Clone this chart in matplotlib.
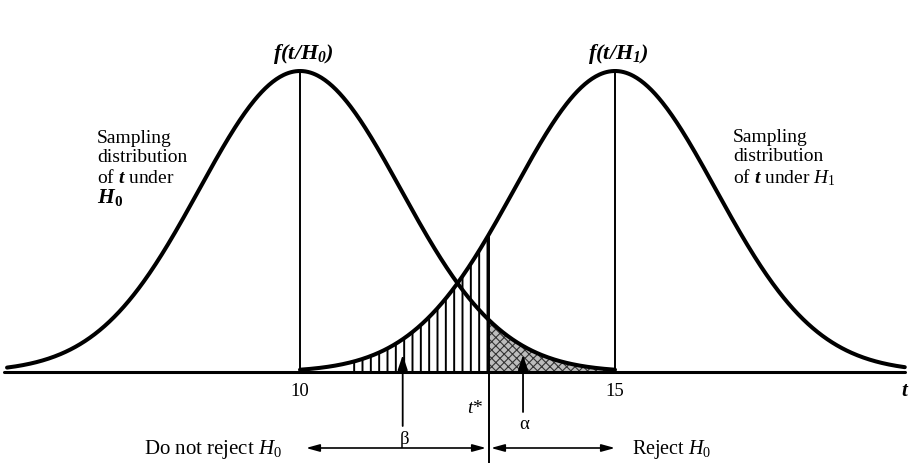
import numpy as np
import matplotlib
matplotlib.use('Agg')
import matplotlib.pyplot as plt

plt.rcParams['font.family'] = ['Liberation Serif', 'DejaVu Serif']
plt.rcParams['mathtext.fontset'] = 'custom'
plt.rcParams['mathtext.rm'] = 'Liberation Serif'
plt.rcParams['mathtext.it'] = 'Liberation Serif:italic'
plt.rcParams['mathtext.bf'] = 'Liberation Serif:bold'
try:
    plt.rcParams['mathtext.bfit'] = 'Liberation Serif:bold:italic'
except KeyError:
    pass
plt.rcParams['hatch.linewidth'] = 1.4

# ---- data ----
means = [10.0, 15.0]          # centres of f(t/H0) and f(t/H1)
sd = 1.6                      # spread of both sampling distributions
t_star = 13.0                 # critical value t*
curve_ranges = [(5.35, 15.0), (10.0, 19.6)]
beta_region = (10.8, t_star)  # hatched area (beta)
alpha_region = (t_star, 15.0) # stippled area (alpha)
axis_range = (5.3, 19.6)
tick_values = [10, 15]
tick_labels = ['10', '15']
curve_labels = [r'$\mathbfit{f(t/H_0)}$', r'$\mathbfit{f(t/H_1)}$']
beta_arrow_t = 11.63
alpha_arrow_t = 13.54


def pdf(t, mu):
    return np.exp(-0.5 * ((t - mu) / sd) ** 2) / (sd * np.sqrt(2 * np.pi))


W, H = 909, 464
fig = plt.figure(figsize=(W / 100, H / 100), dpi=100)
ax = fig.add_axes([0, 0, 1, 1])
ax.axis('off')

PX_PER_UNIT = 63.0
X0PIX = 300.0
BASE = 373.0
PEAK = 72.0
peak = pdf(means[0], means[0])
k = peak / (BASE - PEAK)
ax.set_xlim(10 - X0PIX / PX_PER_UNIT, 10 + (W - X0PIX) / PX_PER_UNIT)
ax.set_ylim(-(H - BASE) * k, BASE * k)


def X(px):
    return 10 + (px - X0PIX) / PX_PER_UNIT


def Y(py):
    return (BASE - py) * k


# shaded regions
tb = np.linspace(*beta_region, 300)
ax.fill_between(tb, 0, pdf(tb, means[1]), facecolor='none', edgecolor='black',
                hatch='||', linewidth=0, zorder=2)
with plt.rc_context({'hatch.linewidth': 0.8}):
    ta = np.linspace(*alpha_region, 300)
    ax.fill_between(ta, 0, pdf(ta, means[0]), facecolor='#bdbdbd', edgecolor='#333333',
                    hatch='xxxx', linewidth=0, zorder=2)

# curves
for mu, (a, b) in zip(means, curve_ranges):
    t = np.linspace(a, b, 500)
    ax.plot(t, pdf(t, mu), color='black', lw=2.9, solid_capstyle='round', zorder=5)

# vertical lines at the means
ax.vlines(means, 0, [pdf(m, m) for m in means], color='black', lw=1.4, zorder=4)

# baseline
ax.plot(axis_range, [0, 0], color='black', lw=2.2, solid_capstyle='round', zorder=6)

# t* line
ax.plot([t_star, t_star], [Y(464), pdf(t_star, means[1])], color='black', lw=1.4, zorder=4)

# beta / alpha arrows
for xa, ybot in [(beta_arrow_t, 427), (alpha_arrow_t, 413)]:
    ax.annotate('', xy=(xa, Y(356)), xytext=(xa, Y(ybot)),
                arrowprops=dict(arrowstyle='-|>,head_length=0.9,head_width=0.3',
                                color='black', lw=1.3, shrinkA=0, shrinkB=0),
                zorder=7)

# decision arrows
arr = dict(arrowstyle='<|-|>,head_length=0.8,head_width=0.22', color='black', lw=1.2,
           shrinkA=0, shrinkB=0)
ax.annotate('', xy=(X(306), Y(449)), xytext=(X(486), Y(449)), arrowprops=arr)
ax.annotate('', xy=(X(491), Y(449)), xytext=(X(615), Y(449)), arrowprops=arr)

# texts
for m, lab in zip(means, curve_labels):
    ax.text(m + 0.05, Y(54), lab, ha='center', va='center', fontsize=16)

for tv, tl in zip(tick_values, tick_labels):
    ax.text(tv, Y(392), tl, ha='center', va='center', fontsize=13.5)
ax.text(X(905), Y(392), r'$\mathbfit{t}$', ha='center', va='center', fontsize=15)

ax.text(X(475), Y(409), r'$t$*', ha='center', va='center', fontsize=14)
ax.text(beta_arrow_t + 0.03, Y(440), 'β', ha='center', va='center', fontsize=13.5)
ax.text(alpha_arrow_t + 0.02, Y(425), 'α', ha='center', va='center', fontsize=13.5)

ax.text(X(282), Y(450), r'Do not reject $H_0$', ha='right', va='center', fontsize=15)
ax.text(X(632), Y(450), r'Reject $H_0$', ha='left', va='center', fontsize=14.5)

left_lines = ['Sampling', 'distribution', r'of $\mathbfit{t}$ under']
for yy, s in zip([139, 158, 178], left_lines):
    ax.text(X(97), Y(yy), s, ha='left', va='center', fontsize=14)
ax.text(X(97), Y(198), r'$\mathbfit{H}_\mathbf{0}$', ha='left', va='center', fontsize=15.5)

right_lines = ['Sampling', 'distribution', r'of $\mathbfit{t}$ under $H_1$']
for yy, s in zip([138, 157, 178], right_lines):
    ax.text(X(733), Y(yy), s, ha='left', va='center', fontsize=14)

fig.savefig('out.png', dpi=100, facecolor='white')
